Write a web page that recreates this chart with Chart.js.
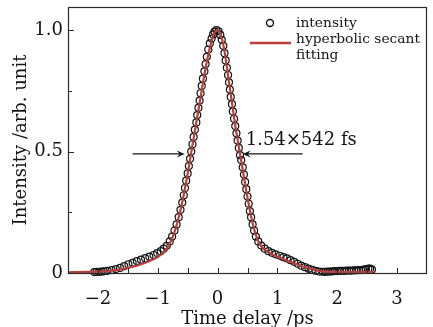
<!DOCTYPE html>
<html>
<head>
<meta charset="utf-8">
<script src="https://cdn.jsdelivr.net/npm/chart.js@4.4.0/dist/chart.umd.min.js"></script>
<style>
    html, body { margin: 0; padding: 0; background: #ffffff; }
    canvas { display: block; }
</style>
</head>
<body>
<canvas id="pulseCanvas" width="433" height="327"></canvas>
<script>
//Measured autocorrelation points (time in ps, normalized intensity)
const measuredTimes = [
    -2.06, -2.02, -1.98, -1.94, -1.90, -1.84, -1.77, -1.70, -1.63, -1.56,
    -1.49, -1.42, -1.35, -1.28, -1.21, -1.14, -1.07, -1.01, -0.95, -0.90,
    -0.85, -0.80, -0.76, -0.72, -0.685, -0.65, -0.62, -0.59, -0.565, -0.545,
    -0.525, -0.50, -0.48, -0.46, -0.44, -0.42, -0.40, -0.38, -0.355, -0.34,
    -0.32, -0.30, -0.285, -0.265, -0.245, -0.22, -0.20, -0.18, -0.155, -0.13,
    -0.10, -0.075, -0.05, -0.02, 0.015, 0.045, 0.07, 0.095, 0.115, 0.135,
    0.155, 0.175, 0.19, 0.205, 0.22, 0.24, 0.255, 0.275, 0.295, 0.315,
    0.335, 0.355, 0.375, 0.395, 0.42, 0.44, 0.46, 0.48, 0.50, 0.52,
    0.54, 0.56, 0.585, 0.61, 0.64, 0.68, 0.73, 0.79, 0.85, 0.91,
    0.97, 1.04, 1.10, 1.16, 1.22, 1.28, 1.34, 1.40, 1.46, 1.52,
    1.58, 1.64, 1.70, 1.76, 1.80, 1.84, 1.88, 1.92, 1.96, 2.00,
    2.04, 2.08, 2.12, 2.16, 2.20, 2.24, 2.28, 2.32, 2.36, 2.40,
    2.44, 2.48, 2.52, 2.55, 2.58
]
const measuredIntensity = [
    0.004, 0.005, 0.005, 0.006, 0.007, 0.009, 0.012, 0.016, 0.021, 0.028,
    0.036, 0.042, 0.049, 0.055, 0.061, 0.067, 0.074, 0.082, 0.09, 0.10,
    0.112, 0.13, 0.15, 0.175, 0.20, 0.23, 0.26, 0.29, 0.32, 0.35,
    0.38, 0.41, 0.44, 0.47, 0.50, 0.53, 0.56, 0.59, 0.62, 0.65,
    0.68, 0.71, 0.74, 0.77, 0.80, 0.83, 0.86, 0.89, 0.92, 0.945,
    0.965, 0.982, 0.994, 1.0, 0.995, 0.98, 0.96, 0.935, 0.905, 0.875,
    0.845, 0.815, 0.785, 0.755, 0.725, 0.695, 0.665, 0.635, 0.605, 0.575,
    0.545, 0.515, 0.485, 0.465, 0.435, 0.405, 0.375, 0.345, 0.315, 0.285,
    0.255, 0.23, 0.20, 0.175, 0.15, 0.13, 0.113, 0.10, 0.09, 0.083,
    0.077, 0.071, 0.065, 0.06, 0.053, 0.046, 0.038, 0.03, 0.024, 0.018,
    0.013, 0.009, 0.006, 0.005, 0.005, 0.006, 0.006, 0.007, 0.008, 0.008,
    0.009, 0.009, 0.009, 0.01, 0.01, 0.01, 0.011, 0.011, 0.012, 0.012,
    0.014, 0.016, 0.018, 0.018, 0.014
]

//Hyperbolic secant fit
const fitTimes = [
    -2.5, -2.3, -2.1, -1.9, -1.7, -1.5, -1.3, -1.2, -1.1, -1.0,
    -0.9, -0.8, -0.7, -0.6, -0.5, -0.4, -0.3, -0.2, -0.1, -0.05,
    0, 0.05, 0.1, 0.2, 0.3, 0.4, 0.5, 0.6, 0.7, 0.8,
    0.9, 1.0, 1.1, 1.2, 1.3, 1.4, 1.5, 1.6, 1.7, 1.8,
    2.0, 2.2, 2.4, 2.6
]
const fitIntensity = [
    0.003, 0.004, 0.005, 0.007, 0.012, 0.021, 0.034, 0.043, 0.054, 0.066,
    0.085, 0.12, 0.185, 0.28, 0.41, 0.555, 0.70, 0.845, 0.955, 0.99,
    1.0, 0.98, 0.935, 0.77, 0.60, 0.455, 0.31, 0.19, 0.12, 0.093,
    0.078, 0.067, 0.057, 0.047, 0.038, 0.029, 0.021, 0.014, 0.009, 0.006,
    0.004, 0.004, 0.004, 0.004
]

const xTickValues = [-2, -1, 0, 1, 2, 3]
const xTickLabels = ['−2', '−1', '0', '1', '2', '3']
const xMinorTickValues = [-1.5, -0.5, 0.5, 1.5, 2.5]
const yTickValues = [0, 0.5, 1]
const yTickLabels = ['0', '0.5', '1.0']
const yMinorTickValues = [0.25, 0.75]

const seriesNames = ['intensity', 'hyperbolic secant fitting']
const widthLabel = '1.54×542 fs'



//Styles
const serifFont = 'DejaVu Serif'
const inkColor = '#141414'
const fitColor = '#b83f3b'



//Frame, inner ticks, legend and the width annotation
const decorationsPlugin = {
    id: 'decorations',
    afterDraw(chart)
    {
        const ctx = chart.ctx
        const area = chart.chartArea
        const xScale = chart.scales.x
        const yScale = chart.scales.y

        ctx.save()
        ctx.strokeStyle = '#2a2a2a'
        ctx.lineWidth = 1.2
        ctx.strokeRect(area.left + 0.5, area.top + 0.5, area.right - area.left - 1, area.bottom - area.top)

        //ticks pointing into the plot
        ctx.lineWidth = 1
        ctx.beginPath()
        xTickValues.concat(xMinorTickValues).forEach(v => {
            const px = Math.round(xScale.getPixelForValue(v)) + 0.5
            ctx.moveTo(px, area.bottom)
            ctx.lineTo(px, area.bottom - 5)
        })
        yTickValues.forEach(v => {
            const py = Math.round(yScale.getPixelForValue(v)) + 0.5
            ctx.moveTo(area.left, py)
            ctx.lineTo(area.left + 6, py)
        })
        yMinorTickValues.forEach(v => {
            const py = Math.round(yScale.getPixelForValue(v)) + 0.5
            ctx.moveTo(area.left, py)
            ctx.lineTo(area.left + 4, py)
        })
        ctx.stroke()

        //legend
        const circleSet = chart.data.datasets[0]
        const fitSet = chart.data.datasets[1]
        ctx.beginPath()
        ctx.arc(270, 23, 3.5, 0, Math.PI * 2)
        ctx.strokeStyle = circleSet.pointBorderColor
        ctx.lineWidth = 1.4
        ctx.stroke()
        ctx.beginPath()
        ctx.moveTo(250, 43)
        ctx.lineTo(291, 43)
        ctx.strokeStyle = fitSet.borderColor
        ctx.lineWidth = 2.4
        ctx.stroke()

        ctx.fillStyle = inkColor
        ctx.font = '13.8px "' + serifFont + '"'
        ctx.textAlign = 'left'
        ctx.textBaseline = 'alphabetic'
        const fitWords = fitSet.label.split(' ')
        ctx.fillText(circleSet.label, 296, 27)
        ctx.fillText(fitWords.slice(0, -1).join(' '), 296, 43)
        ctx.fillText(fitWords[fitWords.length - 1], 296, 59)

        //FWHM arrows and label
        const arrowLevel = yScale.getPixelForValue(0.49)
        drawArrow(ctx, xScale.getPixelForValue(-1.42), xScale.getPixelForValue(-0.55), arrowLevel)
        drawArrow(ctx, xScale.getPixelForValue(1.42), xScale.getPixelForValue(0.42), arrowLevel)
        ctx.fillStyle = inkColor
        ctx.font = '18px "' + serifFont + '"'
        ctx.fillText(widthLabel, xScale.getPixelForValue(0.47), yScale.getPixelForValue(0.527))
        ctx.restore()
    }
}

function drawArrow(ctx, fromX, toX, y)
{
    const dir = toX > fromX ? 1 : -1
    ctx.strokeStyle = inkColor
    ctx.fillStyle = inkColor
    ctx.lineWidth = 1.2
    ctx.beginPath()
    ctx.moveTo(fromX, y)
    ctx.lineTo(toX - dir * 4, y)
    ctx.stroke()
    ctx.beginPath()
    ctx.moveTo(toX, y)
    ctx.lineTo(toX - dir * 8, y - 3.5)
    ctx.lineTo(toX - dir * 5, y)
    ctx.lineTo(toX - dir * 8, y + 3.5)
    ctx.closePath()
    ctx.fill()
}



//Create the chart
const pulseCanvas = document.getElementById('pulseCanvas')
const pulseChart = new Chart(
    pulseCanvas,
    {
        type: 'scatter',
        data:
        {
            datasets:
                [{
                    label: seriesNames[0],
                    data: measuredTimes.map((t, i) => ({x: t, y: measuredIntensity[i]})),
                    showLine: false,
                    pointRadius: 3.5,
                    pointBorderWidth: 1.2,
                    pointBorderColor: inkColor,
                    pointBackgroundColor: 'rgba(0,0,0,0)',
                    clip: false,
                    order: 1
                },
                {
                    label: seriesNames[1],
                    type: 'line',
                    data: fitTimes.map((t, i) => ({x: t, y: fitIntensity[i]})),
                    borderColor: fitColor,
                    borderWidth: 2.2,
                    pointRadius: 0,
                    fill: false,
                    cubicInterpolationMode: 'monotone',
                    order: 0
                }]
        },
        options:
        {
            responsive: false,
            animation: false,
            devicePixelRatio: 1,
            layout:
            {
                padding: {top: 7, right: 6, left: 0, bottom: 0}
            },
            scales:
            {
                x:
                {
                    type: 'linear',
                    min: -2.5,
                    max: 3.5,
                    afterBuildTicks: axis => { axis.ticks = xTickValues.map(v => ({value: v})) },
                    afterFit: axis => {
                        axis.height = 54
                        axis.paddingLeft = 0
                        axis.paddingRight = 0
                    },
                    grid: {display: false, drawTicks: false},
                    border: {display: false},
                    ticks:
                    {
                        autoSkip: false,
                        maxRotation: 0,
                        padding: 16,
                        color: inkColor,
                        font: {family: serifFont, size: 18},
                        callback: (value, index) => xTickLabels[index]
                    },
                    title:
                    {
                        display: true,
                        text: 'Time delay /ps',
                        color: inkColor,
                        padding: {top: 0, bottom: 0},
                        font: {family: serifFont, size: 18, lineHeight: 0.8}
                    }
                },
                y:
                {
                    min: 0,
                    max: 1.095,
                    afterBuildTicks: axis => { axis.ticks = yTickValues.map(v => ({value: v})) },
                    afterFit: axis => {
                        axis.width = 68
                        axis.paddingTop = 0
                        axis.paddingBottom = 0
                    },
                    grid: {display: false, drawTicks: false},
                    border: {display: false},
                    ticks:
                    {
                        padding: 5,
                        color: inkColor,
                        font: {family: serifFont, size: 18},
                        callback: (value, index) => yTickLabels[index]
                    },
                    title:
                    {
                        display: true,
                        text: 'Intensity /arb. unit',
                        color: inkColor,
                        padding: {top: 11, bottom: 0},
                        font: {family: serifFont, size: 18}
                    }
                }
            },
            plugins:
            {
                legend: {display: false},
                tooltip: {enabled: false}
            }
        },
        plugins: [decorationsPlugin]
    }
);
</script>
</body>
</html>
